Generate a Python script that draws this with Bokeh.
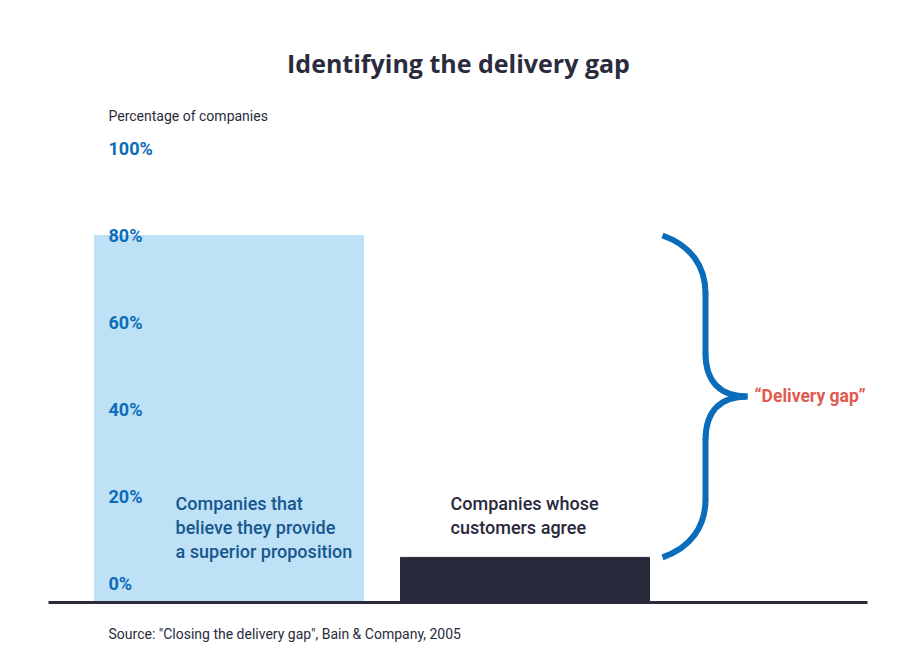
from bokeh.plotting import figure
from bokeh.models import Range1d
from bokeh.core.properties import value
from bokeh.embed import file_html
from bokeh.resources import INLINE

# ---- data ----
title = "Identifying the delivery gap"
y_label = "Percentage of companies"
source = 'Source: "Closing the delivery gap", Bain & Company, 2005'
tick_values = [0, 20, 40, 60, 80, 100]
tick_labels = ["0%", "20%", "40%", "60%", "80%", "100%"]
bar_values = [80, 6]
bar_labels = [["Companies that", "believe they provide", "a superior proposition"],
              ["Companies whose", "customers agree"]]
gap_label = "\u201cDelivery gap\u201d"

# ---- layout ----
W, H = 901, 648
PX_PER = 4.35          # pixels per percent
ZERO_PY = 583          # frame pixel (from top) of 0%
y_end = ZERO_PY / PX_PER
y_start = -(H - ZERO_PY) / PX_PER


def yv(py):
    """pixel y -> value (layout helper for non-data text)"""
    return (ZERO_PY - py) / PX_PER


def xv(px):
    return px


p = figure(width=W, height=H, x_range=Range1d(0, W), y_range=Range1d(y_start, y_end),
           min_border=0, toolbar_location=None, output_backend="svg",
           x_axis_location=None, y_axis_location=None)
p.grid.visible = False
p.outline_line_color = None
p.background_fill_color = "white"
p.border_fill_color = "white"

base = yv(602)
bar_x = [xv(228.5), xv(524.5)]
bar_w = [269, 249]
bar_colors = ["#bee1f6", "#282a3b"]
p.vbar(x=bar_x, width=bar_w, bottom=base, top=bar_values, color=bar_colors)

# baseline
p.segment(x0=[xv(48)], y0=[base], x1=[xv(867)], y1=[base], line_color="#2a2b3d", line_width=3)

# tick labels
p.text(x=[xv(108)] * len(tick_values), y=tick_values, text=tick_labels,
       text_font=value("Roboto"), text_font_style="bold", text_font_size="18px",
       text_color="#0b6cb9", text_baseline="middle", text_align="left")

# title, axis label, source
p.text(x=[xv(458)], y=[yv(62)], text=[title], text_font=value("Open Sans"),
       text_font_style="bold", text_font_size="25px", text_color="#2a2b3d",
       text_align="center", text_baseline="middle")
p.text(x=[xv(108)], y=[yv(115)], text=[y_label], text_font=value("Roboto"),
       text_font_size="14px", text_color="#2a2b3d", text_baseline="middle")
p.text(x=[xv(108)], y=[yv(633)], text=[source], text_font=value("Roboto"),
       text_font_size="14px", text_color="#2a2b3d", text_baseline="middle")

# bar labels
lab_font = value("Roboto Medium, Roboto")
for i, (lines, lx, col) in enumerate(zip(bar_labels, [175, 450], ["#17588f", "#2a2b3d"])):
    p.text(x=[xv(lx)] * len(lines), y=[yv(503 + 24 * k) for k in range(len(lines))], text=lines,
           text_font=lab_font, text_font_size="18px", text_color=col,
           text_baseline="middle", text_align="left")

# brace between the two bar tops
top, bot = bar_values
mid = (top + bot) / 2
h = (top - bot) / 2
xl, xm, xt, xc1, xc2 = xv(662), xv(705), xv(747), xv(690), xv(720)
brace_color = "#0a6dbb"
curves = [
    # x0, y0, x1, y1, cx0, cy0, cx1, cy1
    (xl, top, xm, top - 0.36 * h, xc1, top - 0.06 * h, xm, top - 0.19 * h),
    (xm, mid + 0.27 * h, xt, mid, xm, mid + 0.09 * h, xc2, mid),
    (xt, mid, xm, mid - 0.27 * h, xc2, mid, xm, mid - 0.09 * h),
    (xm, bot + 0.36 * h, xl, bot, xm, bot + 0.19 * h, xc1, bot + 0.06 * h),
]
cols = list(zip(*curves))
p.bezier(x0=list(cols[0]), y0=list(cols[1]), x1=list(cols[2]), y1=list(cols[3]),
         cx0=list(cols[4]), cy0=list(cols[5]), cx1=list(cols[6]), cy1=list(cols[7]),
         line_color=brace_color, line_width=6)
# straight parts of the brace (round caps hide the joins)
p.segment(x0=[xm, xm], y0=[top - 0.36 * h, mid - 0.27 * h],
          x1=[xm, xm], y1=[mid + 0.27 * h, bot + 0.36 * h],
          line_color=brace_color, line_width=6, line_cap="round")

p.text(x=[xv(754)], y=[mid], text=[gap_label], text_font=value("Roboto"),
       text_font_style="bold", text_font_size="17.5px", text_color="#e05a50",
       text_baseline="middle", text_align="left")

open("out.html", "w").write(file_html(p, INLINE))
